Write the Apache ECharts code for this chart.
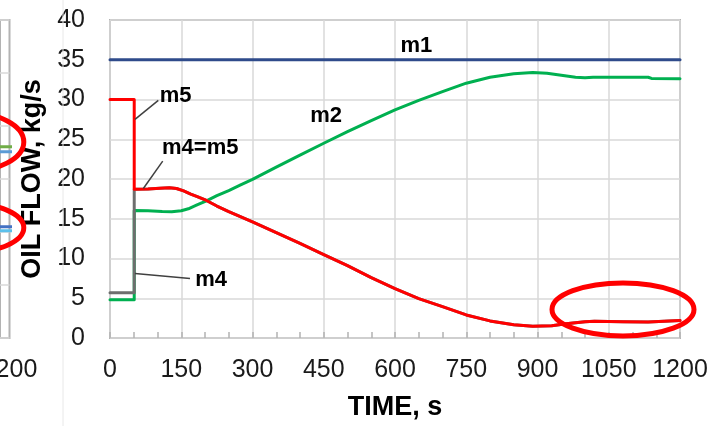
<!DOCTYPE html>
<html>
<head>
<meta charset="utf-8">
<style>
  html, body { margin: 0; padding: 0; background: #ffffff; }
  #chart { width: 708px; height: 426px; }
</style>
<script src="https://cdn.jsdelivr.net/npm/echarts@6/dist/echarts.min.js"></script>
</head>
<body>
<div id="chart"></div>
<script>
// Oil flow per pump line [time s, flow kg/s]
const m1Flow = [[0, 35], [1200, 35]];

const m2Flow = [
  [0, 4.8], [51, 4.8], [51, 16.05], [80, 16.0], [110, 15.9], [130, 15.87], [150, 16.0],
  [165, 16.25], [182, 16.7], [203, 17.25], [225, 17.9], [250, 18.55], [275, 19.25],
  [300, 19.95], [350, 21.5], [400, 23.0], [450, 24.5], [500, 25.95], [550, 27.35],
  [600, 28.7], [650, 29.9], [700, 31.0], [750, 32.05], [800, 32.8], [850, 33.25],
  [890, 33.4], [920, 33.3], [950, 33.05], [980, 32.8], [1000, 32.75], [1017, 32.8],
  [1080, 32.8], [1133, 32.8], [1140, 32.65], [1200, 32.6]
];

const m5Flow = [
  [0, 30], [51, 30], [51, 18.7], [80, 18.75], [105, 18.85], [125, 18.9], [140, 18.8],
  [155, 18.5], [170, 18.1], [185, 17.75], [203, 17.3], [225, 16.6], [250, 15.9],
  [300, 14.6], [350, 13.25], [400, 11.9], [450, 10.5], [500, 9.1], [550, 7.6],
  [600, 6.2], [650, 4.95], [700, 3.95], [750, 2.9], [800, 2.15], [850, 1.68],
  [890, 1.47], [930, 1.55], [960, 1.8], [1000, 2.05], [1020, 2.1], [1080, 2.05],
  [1133, 2.0], [1135, 2.18], [1200, 2.2]
];

// m4 runs low until the switch, then coincides with m5
const m4Start = [[0, 5.7], [51, 5.7]];
const m4Flow = m4Start.concat(m5Flow.slice(2));

// Right-hand ends of the neighbouring panel's traces
const sideGreen = [[1150, 18.05], [1207, 18.05]];
const sideLightBlue1 = [[1150, 17.58], [1207, 17.58]];
const sideBlue = [[1150, 10.5], [1207, 10.5]];
const sideLightBlue2 = [[1150, 10.12], [1207, 10.12]];

const xTicks = { min: 0, max: 1200, interval: 150 };
const yTicks = { min: 0, max: 40, interval: 5 };
const sideXTicks = { min: 1180, max: 1200, interval: 20 };
const sideYTicks = { min: 0, max: 30, interval: 5 };

const FONT = '"Liberation Sans", Arial, sans-serif';
const GRID_COLOR = '#d9d9d9';
const BORDER_COLOR = '#b3b3b3';
const plainNumber = v => String(v);

const chart = echarts.init(document.getElementById('chart'), null, { renderer: 'canvas' });

function lineSeries(name, data, color, width, xi, z) {
  return {
    name: name, type: 'line', data: data, xAxisIndex: xi, yAxisIndex: xi,
    showSymbol: false, symbol: 'none', smooth: false, clip: xi === 0,
    lineStyle: { color: color, width: width, join: 'round', cap: 'round' },
    z: z, silent: true, animation: false
  };
}

chart.setOption({
  animation: false,
  backgroundColor: '#ffffff',
  grid: [
    { left: 110, right: 28, top: 20, bottom: 88, show: true, borderColor: BORDER_COLOR, borderWidth: 2,
      containLabel: false, outerBoundsMode: 'none' },
    { left: 0, width: 9.5, top: 20, height: 318, show: true, borderColor: BORDER_COLOR, borderWidth: 2,
      containLabel: false, outerBoundsMode: 'none' }
  ],
  xAxis: [
    {
      gridIndex: 0, type: 'value', min: xTicks.min, max: xTicks.max, interval: xTicks.interval,
      name: 'TIME, s', nameLocation: 'middle', nameGap: 56,
      nameTextStyle: { fontFamily: FONT, fontSize: 27, fontWeight: 'bold', color: '#000' },
      axisLine: { show: false },
      axisTick: { show: true, inside: true, length: 6, lineStyle: { color: BORDER_COLOR, width: 1.5 } },
      minorTick: { show: true, splitNumber: 3, length: 6, lineStyle: { color: BORDER_COLOR, width: 1.5 } },
      axisLabel: { fontFamily: FONT, fontSize: 25, color: '#1a1a1a', margin: 20, formatter: plainNumber },
      splitLine: { show: true, lineStyle: { color: GRID_COLOR, width: 1.5 } }
    },
    {
      gridIndex: 1, type: 'value', min: sideXTicks.min, max: sideXTicks.max, interval: sideXTicks.interval,
      axisLine: { show: false }, axisTick: { show: false },
      axisLabel: { fontFamily: FONT, fontSize: 25, color: '#1a1a1a', margin: 20, formatter: plainNumber,
                   showMinLabel: false, showMaxLabel: true, hideOverlap: false },
      splitLine: { show: false }
    }
  ],
  yAxis: [
    {
      gridIndex: 0, type: 'value', min: yTicks.min, max: yTicks.max, interval: yTicks.interval,
      name: 'OIL FLOW, kg/s', nameLocation: 'middle', nameGap: 62,
      nameTextStyle: { fontFamily: FONT, fontSize: 27, fontWeight: 'bold', color: '#000' },
      axisLine: { show: false }, axisTick: { show: false },
      axisLabel: { fontFamily: FONT, fontSize: 25, color: '#1a1a1a', margin: 25 },
      splitLine: { show: true, lineStyle: { color: GRID_COLOR, width: 1.5 } }
    },
    {
      gridIndex: 1, type: 'value', min: sideYTicks.min, max: sideYTicks.max, interval: sideYTicks.interval,
      axisLine: { show: false }, axisTick: { show: false }, axisLabel: { show: false },
      splitLine: { show: true, lineStyle: { color: GRID_COLOR, width: 1.5 } }
    }
  ],
  series: [
    lineSeries('m2', m2Flow, '#00B050', 3, 0, 3),
    lineSeries('m4', m4Flow, '#6E6E6E', 3, 0, 4),
    lineSeries('m5', m5Flow, '#FF0000', 3, 0, 5),
    lineSeries('m1', m1Flow, '#2F4B8B', 3, 0, 6),
    lineSeries('side-green', sideGreen, '#70AD47', 3, 1, 3),
    lineSeries('side-lightblue-1', sideLightBlue1, '#5B9BD5', 3, 1, 3),
    lineSeries('side-blue', sideBlue, '#4472C4', 3, 1, 3),
    lineSeries('side-lightblue-2', sideLightBlue2, '#5BC0EB', 3, 1, 3)
  ]
});

// Annotations anchored in data coordinates
const seriesLabels = [
  { text: 'm1', at: [645, 36.7] },
  { text: 'm2', at: [455, 27.9] },
  { text: 'm5', at: [138, 30.5] },
  { text: 'm4=m5', at: [190, 23.9] },
  { text: 'm4', at: [213, 7.26] }
];
const leaders = [
  { from: [52.6, 27.5], to: [101.7, 29.9] },
  { from: [70.2, 18.81], to: [111, 22.25] },
  { from: [52.6, 8.1], to: [168.4, 7.48] }
];
const rings = [
  { grid: 0, at: [1080, 3.6], rx: 71, ry: 26.5 },
  { grid: 1, at: [1108, 18.5], rx: 58, ry: 30 },
  { grid: 1, at: [1108, 10.4], rx: 58, ry: 25 }
];

const px = (g, p) => chart.convertToPixel({ gridIndex: g }, p);
const graphics = [];

graphics.push({
  type: 'line', silent: true, z: 1,
  shape: { x1: 63, y1: 0, x2: 63, y2: 426 },
  style: { stroke: '#e8e8e8', lineWidth: 1 }
});

leaders.forEach(l => {
  const a = px(0, l.from), b = px(0, l.to);
  graphics.push({
    type: 'line', silent: true, z: 50,
    shape: { x1: a[0], y1: a[1], x2: b[0], y2: b[1] },
    style: { stroke: '#404040', lineWidth: 1.5 }
  });
});

seriesLabels.forEach(s => {
  const p = px(0, s.at);
  graphics.push({
    type: 'text', silent: true, z: 50, x: p[0], y: p[1],
    style: { text: s.text, font: 'bold 22px ' + FONT, fill: '#000', align: 'center', verticalAlign: 'middle' }
  });
});

rings.forEach(r => {
  const p = px(r.grid, r.at);
  graphics.push({
    type: 'ellipse', silent: true, z: 60,
    shape: { cx: p[0], cy: p[1], rx: r.rx, ry: r.ry },
    style: { fill: 'none', stroke: '#FF0000', lineWidth: 5 }
  });
});

chart.setOption({ graphic: graphics });
</script>
</body>
</html>
